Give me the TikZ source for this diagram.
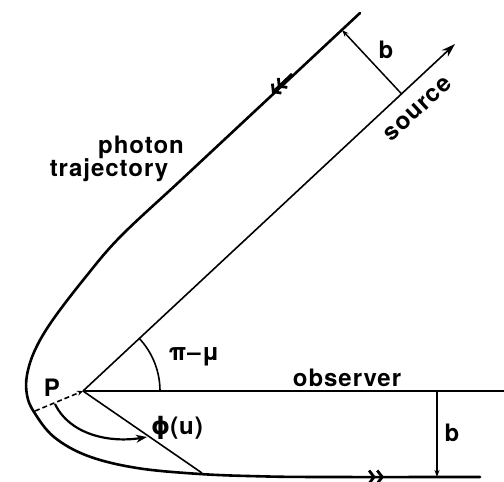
\documentclass[tikz,border=0pt]{standalone}
\usepackage{fontspec}
\setmainfont{TeX Gyre Heros}[LetterSpace=4]
\newfontfamily\symfont{DejaVu Sans}
\usetikzlibrary{arrows.meta,calc}
\begin{document}
\begin{tikzpicture}[x=1pt,y=-1pt,
  lab/.style={font=\fontsize{24}{28}\selectfont\bfseries, inner sep=0pt},
  traj/.style={line width=2.6pt, line cap=round},
  thin line/.style={line width=1.6pt},
  chev/.style={line width=2.8pt, -{Straight Barb[length=5pt,width=13pt]Straight Barb[length=5pt,width=13pt]}},
  barrow/.style={line width=1.5pt, -{Stealth[length=7pt,width=5pt]}}]
\useasboundingbox (0,0) rectangle (504,482);
% key points
\coordinate (O) at (83,391);
\coordinate (S) at (455,44);
\coordinate (E) at (504,391);
\coordinate (F) at (202,473);
\coordinate (D) at (35,411);
\coordinate (T1) at (342,30);
\coordinate (T2) at ($(O)!(T1)!(S)$);
\coordinate (B1) at (437,391);
\coordinate (B2) at (437,477);
% photon trajectory
\draw[traj] plot[smooth, tension=0.6] coordinates {(360,13) (300,69) (240,125) (180,181) (120,237) (84,279) (52,321) (35,350) (27,375) (27,395) (34,412) (54,437) (88,456) (137,468) (200,474) (260,476.3) (320,477) (480,477)};
% direction marks on trajectory
\draw[chev] (292,74) -- (272,93);
\draw[chev] (362,477) -- (384,477);
% source line
\draw[thin line, -{Stealth[length=14pt,width=9pt]}] (O) -- (S);
% observer line
\draw[line width=1.9pt] (O) -- (E);
% line to the trajectory
\draw[thin line] (O) -- (F);
% dashed radius to P
\draw[line width=1.6pt, dashed, dash pattern=on 5pt off 3pt, -{Stealth[length=6pt,width=5pt]}] (D) -- (O);
% impact parameter arrows
\draw[barrow] (T2) -- (T1);
\draw[barrow] (B1) -- (B2);
% angle pi - mu
\draw[line width=1.6pt] (160,391) arc[start angle=0, end angle=-43.3, radius=77];
% phi(u) arrow
\draw[line width=2.2pt, -{Stealth[length=11pt,width=8pt]}] (55,404) .. controls (70,435) and (110,443) .. (147,437);
% labels
\node[lab] (lb1) at (386,50) {b};
\node[lab, rotate=43] (lsrc) at (418,109) {source};
\node[lab] (lphot) at (141,147) {photon};
\node[lab] (ltraj) at (109,170) {trajectory};
\node[lab] (lpm) at (194,357) {π–μ};
\node[lab] (lobs) at (347,378) {observer};
\node[lab] (lphi) at (177,428) {{\symfont\bfseries ϕ}(u)};
\node[lab] (lP) at (52,388) {P};
\node[lab] (lb2) at (452,433) {b};
\end{tikzpicture}
\end{document}
